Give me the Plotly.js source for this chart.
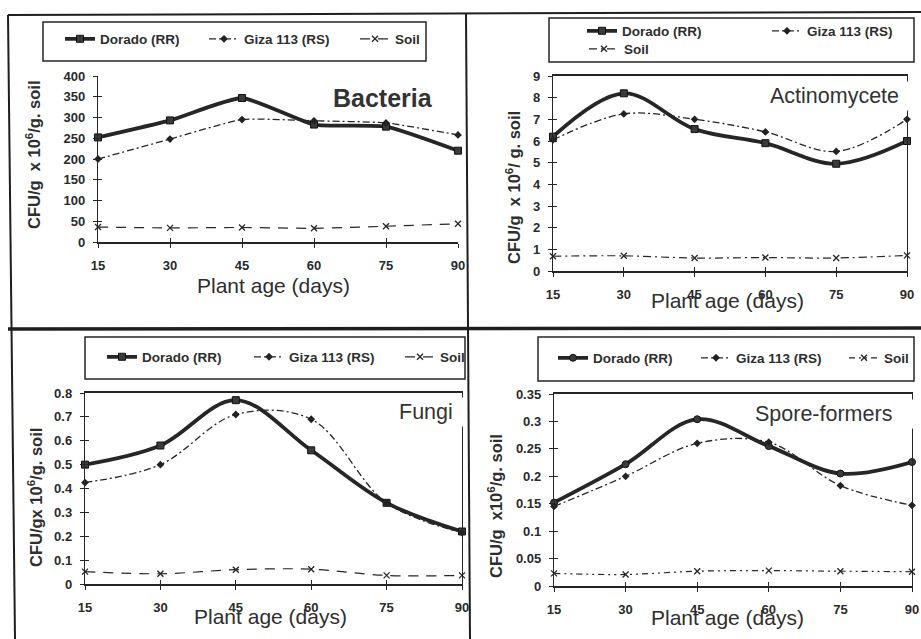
<!DOCTYPE html>
<html>
<head>
<meta charset="utf-8">
<script src="https://cdn.plot.ly/plotly-3.0.1.min.js"></script>
<style>html,body{margin:0;padding:0;background:#fff;}#chart{width:921px;height:639px;}</style>
</head>
<body>
<div id="chart"></div>
<script>
// ---- data ----
const days = [15, 30, 45, 60, 75, 90];
const xTickLabels = ['15', '30', '45', '60', '75', '90'];
const seriesNames = ['Dorado (RR)', 'Giza 113 (RS)', 'Soil'];
const panelNames = ['Bacteria', 'Actinomycete', 'Fungi', 'Spore-formers'];

const bactDorado = [252, 293, 347, 283, 278, 220];
const bactGiza   = [200, 248, 295, 292, 287, 258];
const bactSoil   = [36, 34, 35, 33, 38, 44];

const actDorado = [6.2, 8.2, 6.55, 5.9, 4.95, 6.0];
const actGiza   = [6.05, 7.25, 7.0, 6.42, 5.52, 7.0];
const actSoil   = [0.68, 0.7, 0.6, 0.62, 0.6, 0.72];

const fungDorado = [0.5, 0.58, 0.77, 0.56, 0.34, 0.22];
const fungGiza   = [0.425, 0.5, 0.71, 0.69, 0.34, 0.215];
const fungSoil   = [0.052, 0.043, 0.06, 0.062, 0.036, 0.036];

const sporeDorado = [0.152, 0.222, 0.304, 0.255, 0.205, 0.226];
const sporeGiza   = [0.145, 0.2, 0.26, 0.262, 0.183, 0.147];
const sporeSoil   = [0.023, 0.021, 0.027, 0.028, 0.027, 0.026];

const yRanges = [[0, 400], [0, 9], [0, 0.8], [0, 0.35]];
const yDticks = [50, 1, 0.1, 0.05];

// ---- layout helpers (pixel -> paper) ----
const W = 921, H = 639;
const PX = p => p / W;
const PY = p => 1 - p / H;
const FONT = 'Liberation Sans, Arial, sans-serif';
const INK = '#262626';

// plot areas in pixels: [xLeft, xRight, yBottom, yTop]
const boxes = [
  [98, 458, 242, 76],
  [553, 907, 271, 76],
  [85, 462, 584, 393],
  [554, 912, 586, 394]
];

const panelData = [
  [bactDorado, bactGiza, bactSoil],
  [actDorado, actGiza, actSoil],
  [fungDorado, fungGiza, fungSoil],
  [sporeDorado, sporeGiza, sporeSoil]
];
const smooth = [0.5, 1, 1, 1];
const doradoSymbol = ['square', 'square', 'square', 'circle'];
const soilDash = ['10px,8px', '8px,4px,2px,4px', '10px,8px', '6px,4px,2px,4px,2px,4px'];

// legend text start positions (px) [x, yCenter] per panel per series
const legendPos = [
  [[102, 39], [246, 39], [397, 39]],
  [[624, 31], [809, 31], [626, 49]],
  [[144, 357], [291, 357], [442, 357]],
  [[595, 358], [738, 358], [886, 358]]
];

const traces = [];
const layout = {
  width: W, height: H,
  margin: {l: 0, r: 0, t: 0, b: 0},
  paper_bgcolor: '#ffffff',
  plot_bgcolor: 'rgba(0,0,0,0)',
  showlegend: true,
  font: {family: FONT, color: INK},
  annotations: [],
  shapes: []
};

let legendIdx = 0;
for (let p = 0; p < 4; p++) {
  const n = p + 1;
  const xa = 'x' + (n === 1 ? '' : n);
  const ya = 'y' + (n === 1 ? '' : n);
  const b = boxes[p];
  const [dor, giza, soil] = panelData[p];
  const vals = [dor, giza, soil];
  const styles = [
    {line: {color: INK, width: 3.8, shape: 'spline', smoothing: smooth[p]},
     marker: {symbol: doradoSymbol[p], size: 7, color: '#3a3a3a', line: {color: '#111', width: 1}}},
    {line: {color: INK, width: 1.3, dash: '7px,3px,2px,3px', shape: 'spline', smoothing: smooth[p]},
     marker: {symbol: 'diamond', size: 6, color: '#222'}},
    {line: {color: INK, width: 1.2, dash: soilDash[p], shape: 'spline', smoothing: smooth[p]},
     marker: {symbol: 'x-thin-open', size: 6, line: {color: INK, width: 1.3}}}
  ];
  for (let s = 0; s < 3; s++) {
    legendIdx++;
    const lid = 'legend' + (legendIdx === 1 ? '' : legendIdx);
    traces.push(Object.assign({
      type: 'scatter', mode: 'lines+markers',
      x: days, y: vals[s], name: seriesNames[s],
      xaxis: xa, yaxis: ya, legend: lid, cliponaxis: false, hoverinfo: 'skip'
    }, styles[s]));
    const lp = legendPos[p][s];
    layout[lid] = {
      x: PX(lp[0] - 42), y: PY(lp[1]), xanchor: 'left', yanchor: 'middle',
      bgcolor: 'rgba(0,0,0,0)', borderwidth: 0, orientation: 'h',
      font: {family: FONT, size: 13.5, weight: 'bold', color: '#2e2e2e'}
    };
  }
  const mirror = p > 0;
  layout['xaxis' + (n === 1 ? '' : n)] = {
    domain: [PX(b[0]), PX(b[1])], anchor: ya, range: [15, 90],
    tickmode: 'array', tickvals: days, ticktext: xTickLabels,
    showline: true, linecolor: INK, linewidth: 2, mirror: mirror,
    ticks: 'outside', ticklen: 4, tickwidth: 1, tickcolor: INK,
    showgrid: false, zeroline: false, fixedrange: true,
    tickfont: {family: FONT, size: 13, weight: 'bold', color: '#2a2a2a'},
    ticklabelstandoff: 6
  };
  layout['yaxis' + (n === 1 ? '' : n)] = {
    domain: [PY(b[2]), PY(b[3])], anchor: xa, range: yRanges[p], dtick: yDticks[p],
    showline: true, linecolor: INK, linewidth: 1.2, mirror: mirror,
    ticks: 'outside', ticklen: 4, tickwidth: 1, tickcolor: INK,
    showgrid: false, zeroline: false, fixedrange: true,
    tickfont: {family: FONT, size: 13, weight: 'bold', color: '#2a2a2a'},
    ticklabelstandoff: 5
  };
  // overlay axes: inner halves of crossing ticks
  const on = n + 4;
  layout['xaxis' + on] = {
    overlaying: xa, anchor: 'y' + on, range: [15, 90],
    tickmode: 'array', tickvals: days, showticklabels: false,
    ticks: 'inside', ticklen: 4, tickwidth: 1, tickcolor: INK,
    showline: false, showgrid: false, zeroline: false, fixedrange: true
  };
  layout['yaxis' + on] = {
    overlaying: ya, anchor: 'x' + on, range: yRanges[p], dtick: yDticks[p], showticklabels: false,
    ticks: 'inside', ticklen: 4, tickwidth: 1, tickcolor: INK,
    showline: false, showgrid: false, zeroline: false, fixedrange: true
  };
  traces.push({type: 'scatter', x: [], y: [], xaxis: 'x' + on, yaxis: 'y' + on, showlegend: false, hoverinfo: 'skip'});
}

// axis titles (as annotations for exact placement)
const yTitles = [
  'CFU/g  x 10<sup>6</sup>/g. soil',
  'CFU/g  x 10<sup>6</sup>/ g. soil',
  'CFU/gx 10<sup>6</sup>/g. soil',
  'CFU/g  x10<sup>6</sup>/g. soil'
];
const yTitlePos = [[33, 155], [513, 188], [35, 498], [495, 506]];
const xTitlePos = [[273, 285], [727, 300], [270, 616], [727, 617]];
for (let p = 0; p < 4; p++) {
  layout.annotations.push({
    xref: 'paper', yref: 'paper', x: PX(yTitlePos[p][0]), y: PY(yTitlePos[p][1]),
    text: yTitles[p], textangle: -90, showarrow: false, xanchor: 'center', yanchor: 'middle',
    font: {family: FONT, size: 16.5, weight: 'bold', color: '#2e2e2e'}
  });
  layout.annotations.push({
    xref: 'paper', yref: 'paper', x: PX(xTitlePos[p][0]), y: PY(xTitlePos[p][1]),
    text: 'Plant age (days)', showarrow: false, xanchor: 'center', yanchor: 'middle',
    font: {family: FONT, size: 21, color: '#2e2e2e'}
  });
}
// panel labels
layout.annotations.push({
  xref: 'paper', yref: 'paper', x: PX(383), y: PY(98), text: panelNames[0], showarrow: false,
  xanchor: 'center', yanchor: 'middle', font: {family: FONT, size: 25, weight: 'bold', color: '#333'}
});
const labelBoxes = [null, [909, 96, 138], [464, 412, 64], [914, 414, 158]];
for (let p = 1; p < 4; p++) {
  const lb = labelBoxes[p];
  layout.annotations.push({
    xref: 'paper', yref: 'paper', x: PX(lb[0]), y: PY(lb[1]), text: panelNames[p], showarrow: false,
    xanchor: 'right', yanchor: 'middle', width: lb[2], height: 28, align: 'left',
    bgcolor: '#ffffff', borderpad: 0,
    font: {family: FONT, size: 21.5, color: '#333'}
  });
}

// legend frames and figure frame lines
const legendFrames = [[43, 426, 22, 61], [549, 914, 18, 62], [85, 465, 337, 379], [538, 914, 337, 381]];
legendFrames.forEach(f => layout.shapes.push({
  type: 'rect', xref: 'paper', yref: 'paper', x0: PX(f[0]), x1: PX(f[1]), y0: PY(f[3]), y1: PY(f[2]),
  line: {color: INK, width: 1.5}, fillcolor: 'rgba(0,0,0,0)', layer: 'below'
}));
const frameLines = [
  [8, 15, 921, 12, 2],
  [8, 15, 15, 639, 2],
  [466, 13, 470, 639, 2],
  [8, 329, 921, 328, 3.5]
];
frameLines.forEach(l => layout.shapes.push({
  type: 'line', xref: 'paper', yref: 'paper', x0: PX(l[0]), y0: PY(l[1]), x1: PX(l[2]), y1: PY(l[3]),
  line: {color: '#1e1e1e', width: l[4]}, layer: 'below'
}));

Plotly.newPlot('chart', traces, layout, {staticPlot: true, displayModeBar: false});
</script>
</body>
</html>
